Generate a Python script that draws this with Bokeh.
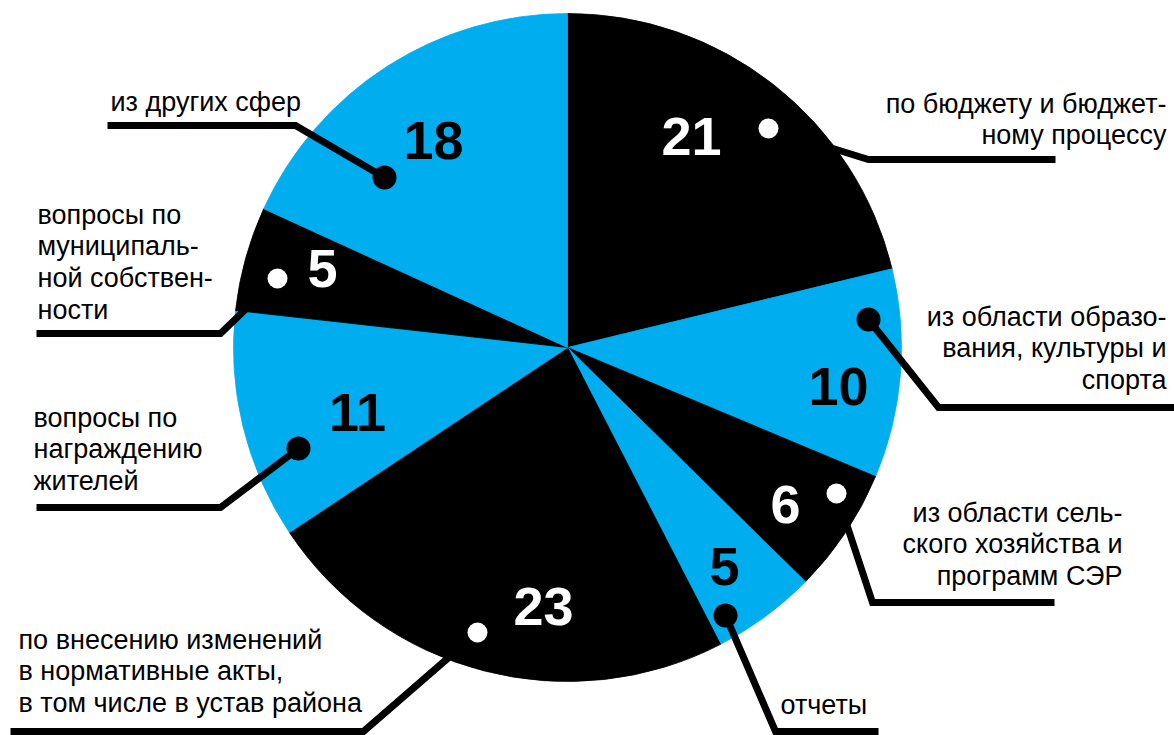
import math
from bokeh.plotting import figure
from bokeh.models import Range1d, ColumnDataSource
from bokeh.core.properties import value
from bokeh.embed import file_html
from bokeh.resources import INLINE

# ---------------- data ----------------
categories = [
    "по бюджету и бюджет-\nному процессу",
    "из области образо-\nвания, культуры и\nспорта",
    "из области сель-\nского хозяйства и\nпрограмм СЭР",
    "отчеты",
    "по внесению изменений\nв нормативные акты,\nв том числе в устав района",
    "вопросы по\nнаграждению\nжителей",
    "вопросы по\nмуниципаль-\nной собствен-\nности",
    "из других сфер",
]
values = [21, 10, 6, 5, 23, 11, 5, 18]

# ---------------- styles / layout (reference pixel coordinates) ----------------
BLUE = "#00aeef"
BLACK = "#000000"
slice_colors = [BLACK, BLUE, BLACK, BLUE, BLACK, BLUE, BLACK, BLUE]
num_colors = ["white", BLACK, "white", BLACK, "white", BLACK, "white", BLACK]

W, H = 1174, 735
CX, CY, R = 567, 347, 334

# number label centre x, baseline y
num_pos = [(691, 156), (838, 406), (785, 524), (724, 586),
           (543, 626), (357, 432), (322, 288), (433, 160)]
# dot centre
dot_pos = [(768, 128), (868, 319), (836, 493), (725, 615),
           (477, 632), (298, 448), (277, 278), (384, 177)]
# leader elbow and end
elbow = [(868, 159), (938, 407), (872, 602), (775, 731),
         (363, 731), (220, 507), (220, 333), (295, 125)]
lead_end = [(1055, 159), (1180, 407), (1054, 602), (878, 731),
            (10, 731), (36, 507), (36, 333), (107, 125)]
# text anchor: x, first baseline, align
txt_pos = [(1166, 112, "right"), (1166, 325, "right"), (1122, 521, "right"),
           (780, 713, "left"), (18, 648, "left"), (33, 426, "left"),
           (37, 223, "left"), (110, 110, "left")]
LINE_H = 31.8
NUM_SHIFT = 20   # renderer baseline correction (px)
TXT_SHIFT = 9


def fy(y):
    return H - y


p = figure(width=W, height=H, output_backend="svg", toolbar_location=None,
           x_range=Range1d(0, W), y_range=Range1d(0, H),
           min_border=0, background_fill_color="white", border_fill_color="white")
p.axis.visible = False
p.grid.visible = False
p.outline_line_color = None

# ---------------- pie ----------------
total = sum(values)
starts, ends = [], []
cum = 0
for v in values:
    starts.append(math.pi / 2 - 2 * math.pi * cum / total)
    cum += v
    ends.append(math.pi / 2 - 2 * math.pi * cum / total)

src = ColumnDataSource(dict(start=starts, end=ends, color=slice_colors))
p.wedge(x=CX, y=fy(CY), radius=R, start_angle="start", end_angle="end",
        direction="clock", fill_color="color", line_color="color",
        line_width=0.8, source=src)

# ---------------- leaders ----------------
xs = [[d[0], e[0], f[0]] for d, e, f in zip(dot_pos, elbow, lead_end)]
ys = [[fy(d[1]), fy(e[1]), fy(f[1])] for d, e, f in zip(dot_pos, elbow, lead_end)]
p.multi_line(xs=xs, ys=ys, line_color=BLACK, line_width=7, line_join="miter")

# ---------------- dots ----------------
dot_sizes = [20 if c == "white" else 24 for c in num_colors]
p.scatter(x=[d[0] for d in dot_pos], y=[fy(d[1]) for d in dot_pos],
          size=dot_sizes, fill_color=num_colors, line_color=None)

# ---------------- numbers ----------------
p.text(x=[n[0] for n in num_pos], y=[fy(n[1] - NUM_SHIFT) for n in num_pos],
       text=[str(v) for v in values], text_color=num_colors,
       text_font=value("Liberation Sans"), text_font_style="bold",
       text_font_size="54px", text_align="center", text_baseline="alphabetic")

# ---------------- category labels ----------------
for cat, (tx, ty, al) in zip(categories, txt_pos):
    lines = cat.split("\n")
    p.text(x=[tx] * len(lines),
           y=[fy(ty - TXT_SHIFT + i * LINE_H) for i in range(len(lines))],
           text=lines, text_color=BLACK, text_font=value("Liberation Sans"),
           text_font_size="27px", text_align=al, text_baseline="alphabetic")

open("out.html", "w").write(file_html(p, INLINE))
